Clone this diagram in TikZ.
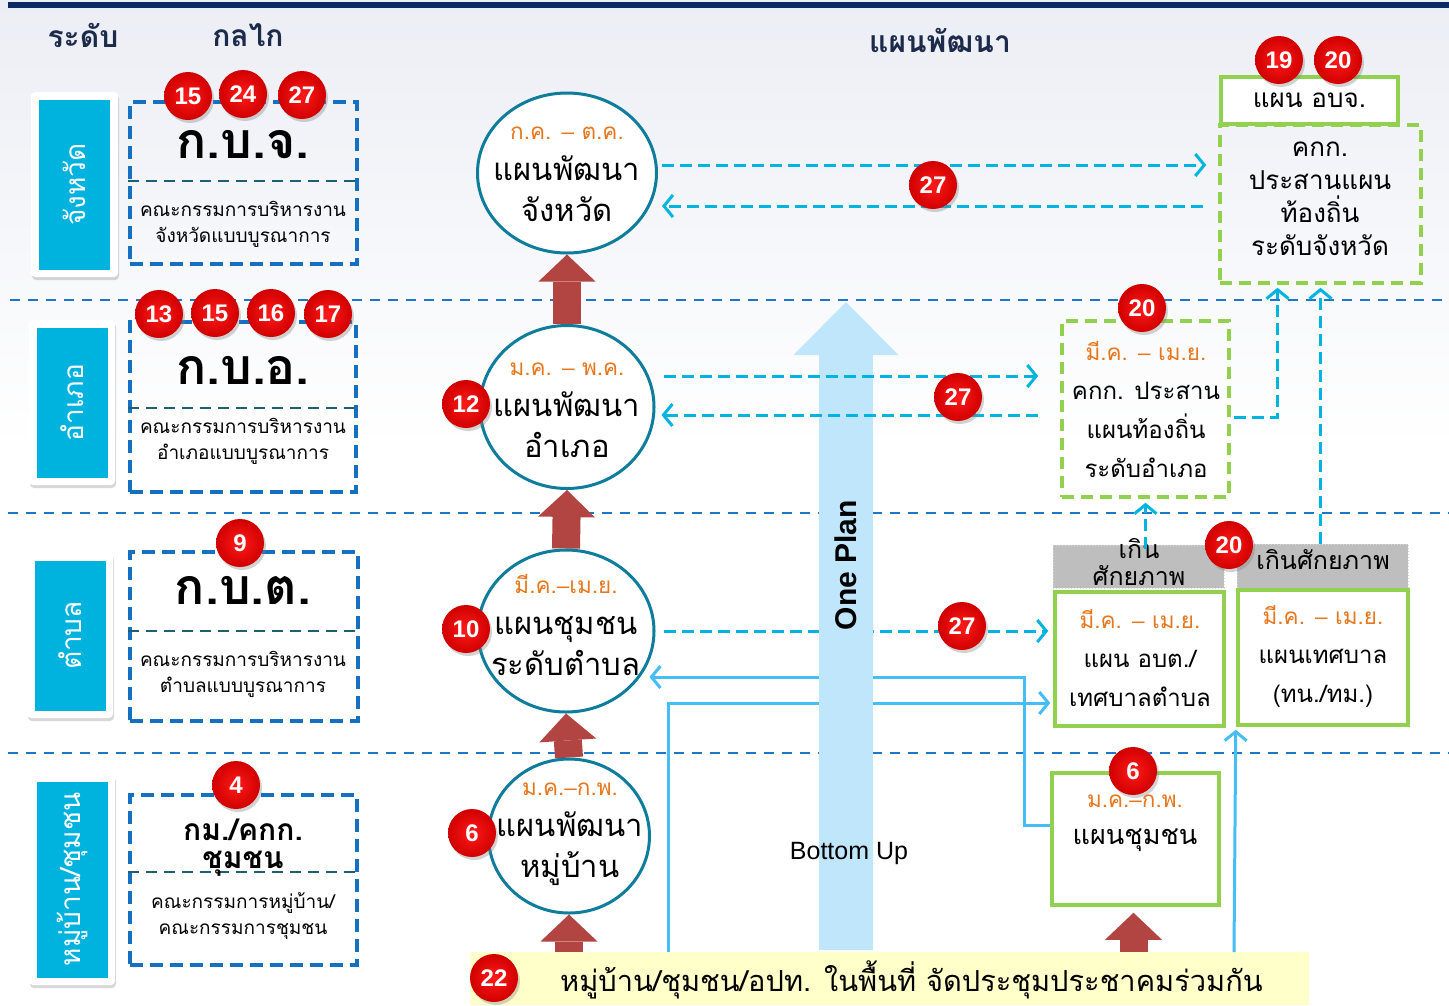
\documentclass[tikz,border=0pt]{standalone}
\usepackage{fontspec}
\setmainfont[Script=Thai]{Loma}
\newfontfamily\latinfont{Liberation Sans}
\usetikzlibrary{arrows.meta,shapes.geometric,shadows,calc}
\pgfdeclarelayer{bg}
\pgfdeclarelayer{back}
\pgfsetlayers{bg,back,main}

\definecolor{navyline}{HTML}{0B2A62}
\definecolor{navytext}{HTML}{1C2B4A}
\definecolor{sepblue}{HTML}{1B78C8}
\definecolor{mechblue}{HTML}{1670C2}
\definecolor{divteal}{HTML}{1D5F73}
\definecolor{lvlcyan}{HTML}{00B2DE}
\definecolor{ellteal}{HTML}{0E7C9B}
\definecolor{datecol}{HTML}{E8761C}
\definecolor{redarrow}{HTML}{B24441}
\definecolor{oneplan}{HTML}{BFE6FA}
\definecolor{dashcyan}{HTML}{00B4E0}
\definecolor{solidblue}{HTML}{45BDF7}
\definecolor{grn}{HTML}{92D050}
\definecolor{greyhdr}{HTML}{BEBEBE}
\definecolor{barfill}{HTML}{FFFFC9}
\definecolor{bgtop}{HTML}{ECEEF5}
\definecolor{ballin}{HTML}{FF1A1A}
\definecolor{ballout}{HTML}{D00000}

\newcommand\fsz[2]{\fontsize{#1}{#2}\selectfont}
\newcommand\mon[1]{{\color{datecol}\fsz{22.5}{28}#1}}
\newcommand\ndsh{{\latinfont –}}
\newcommand\badge[3]{\node[badge] (#1) at (#2) {#3};}

\tikzset{
  badge/.style={circle, minimum size=48, inner sep=0, inner color=ballin, outer color=ballout,
    text=white, font=\latinfont\bfseries\fsz{24}{24},
    drop shadow={opacity=0.35, shadow xshift=2pt, shadow yshift=-3pt}},
  lvlbox/.style={fill=white, rounded corners=4, inner sep=0,
    drop shadow={opacity=0.3, shadow xshift=1pt, shadow yshift=-3pt}},
  lvltxt/.style={fill=lvlcyan, text=white, rotate=90, inner sep=0, font=\fsz{28}{30}},
  mechbox/.style={draw=mechblue, line width=3.5, dash pattern=on 13pt off 7pt, inner sep=0},
  divline/.style={draw=divteal, line width=2.5, dash pattern=on 11pt off 7pt},
  abbr/.style={font=\bfseries\fsz{50}{50}, inner sep=0},
  mechdesc/.style={font=\fsz{19}{26}, align=center, inner sep=0},
  plan/.style={ellipse, draw=ellteal, line width=3, fill=white, inner sep=0},
  plantxt/.style={font=\fsz{31}{41}, align=center, inner sep=0},
  grnsolid/.style={draw=grn, line width=3.5, fill=white, inner sep=0},
  grndash/.style={draw=grn, line width=3.5, dash pattern=on 12pt off 7pt, inner sep=0},
  potbox/.style={fill=greyhdr, draw=white!70!gray, dotted, line width=1, inner sep=0},
  boxtxt/.style={font=\fsz{24}{39}, align=center, inner sep=0},
  sepline/.style={draw=sepblue, line width=2.5, dash pattern=on 10pt off 8pt},
  dashconn/.style={draw=dashcyan, line width=3, dash pattern=on 12pt off 6pt,
    -{Straight Barb[length=9pt,width=22pt]}},
  solidconn/.style={draw=solidblue, line width=3, -{Straight Barb[length=9pt,width=22pt]}},
  redup/.style={draw=redarrow, line width=28, -{Triangle[length=27pt,width=57pt,line width=0pt]}},
  oparrow/.style={draw=oneplan, line width=54, -{Triangle[length=53pt,width=105pt,line width=0pt]}},
  headtxt/.style={text=navytext, font=\bfseries\fsz{30}{30}, inner sep=0}
}

\begin{document}
\begin{tikzpicture}[x=1pt,y=-1pt]
%%%%% START %%%%%
\useasboundingbox (0,0) rectangle (1449,1005);
\begin{pgfonlayer}{bg}
\fill[white] (0,0) rectangle (1449,1005);
\shade[top color=bgtop, bottom color=white] (0,0) rectangle (1449,450);
\fill[navyline] (8,2) rectangle (1449,8);
\draw[sepline] (10,300) -- (1449,300);
\draw[sepline] (8,513) -- (1449,513);
\draw[sepline] (8,753) -- (1449,753);
\end{pgfonlayer}

\node[headtxt] (hLevel) at (83,35) {ระดับ};
\node[headtxt] (hMech) at (248,35) {กลไก};
\node[headtxt] (hPlan) at (940,40) {แผนพัฒนา};

% levels
\node[lvlbox, minimum width=87, minimum height=185] (Lprov) at (74.5,184.5) {};
\node[lvltxt, minimum width=170, minimum height=71] (LprovT) at (Lprov) {จังหวัด};
\node[lvlbox, minimum width=86, minimum height=165] (Ldist) at (72,402.5) {};
\node[lvltxt, minimum width=150, minimum height=71] (LdistT) at (Ldist) {อำเภอ};
\node[lvlbox, minimum width=86, minimum height=165] (Lsub) at (70,635.5) {};
\node[lvltxt, minimum width=150, minimum height=71] (LsubT) at (Lsub) {ตำบล};
\node[lvlbox, minimum width=86, minimum height=211] (Lvill) at (72,879.5) {};
\node[lvltxt, minimum width=196, minimum height=71] (LvillT) at (Lvill) {หมู่บ้าน/ชุมชน};

% mechanisms
\node[mechbox, minimum width=227, minimum height=162] (kbj) at (243.5,183) {};
\draw[divline] ([yshift=2pt]kbj.west) -- ([yshift=2pt]kbj.east);
\node[abbr] (kbjT) at (243,145) {ก.บ.จ.};
\node[mechdesc] (kbjD) at (243,224) {คณะกรรมการบริหารงาน\\จังหวัดแบบบูรณาการ};

\node[mechbox, minimum width=226, minimum height=170] (kba) at (243,407) {};
\draw[divline] ([yshift=-1pt]kba.west) -- ([yshift=-1pt]kba.east);
\node[abbr] (kbaT) at (243,370) {ก.บ.อ.};
\node[mechdesc] (kbaD) at (243,441) {คณะกรรมการบริหารงาน\\อำเภอแบบบูรณาการ};

\node[mechbox, minimum width=228, minimum height=169] (kbt) at (244,636.5) {};
\draw[divline] ([yshift=5.5pt]kbt.west) -- ([yshift=5.5pt]kbt.east);
\node[abbr] (kbtT) at (243,590) {ก.บ.ต.};
\node[mechdesc] (kbtD) at (243,674) {คณะกรรมการบริหารงาน\\ตำบลแบบบูรณาการ};

\node[mechbox, minimum width=227, minimum height=170] (kmc) at (243.5,880) {};
\draw[divline] ([yshift=8pt]kmc.west) -- ([yshift=8pt]kmc.east);
\node[abbr, font=\bfseries\fsz{30}{28}, align=center] (kmcT) at (243,848) {กม./คกก.\\ชุมชน};
\node[mechdesc] (kmcD) at (243,916) {คณะกรรมการหมู่บ้าน/\\คณะกรรมการชุมชน};

% plans
\node[plan, minimum width=179, minimum height=160] (E1) at (567,173) {};
\node[plantxt] (E1T) at (567,174) {\mon{ก.ค. \ndsh{} ต.ค.}\\แผนพัฒนา\\จังหวัด};
\node[plan, minimum width=174, minimum height=163] (E2) at (567,407) {};
\node[plantxt] (E2T) at (567,410) {\mon{ม.ค. \ndsh{} พ.ค.}\\แผนพัฒนา\\อำเภอ};
\node[plan, minimum width=176, minimum height=162] (E3) at (566,631) {};
\node[plantxt] (E3T) at (566,625) {\mon{มี.ค.\ndsh{}เม.ย.}\\แผนชุมชน\\ระดับตำบล};
\node[plan, minimum width=161, minimum height=154] (E4) at (569,836) {};
\node[plantxt] (E4T) at (570,834) {\mon{ม.ค.\ndsh{}ก.พ.}\\แผนพัฒนา\\หมู่บ้าน};

\node[fill=barfill, minimum width=839, minimum height=53, inner sep=0, anchor=north west] (bar) at (470,952) {};
\node[font=\fsz{29}{29}, anchor=west, inner sep=0] (barT) at (560,980) {หมู่บ้าน/ชุมชน/อปท. ในพื้นที่ จัดประชุมประชาคมร่วมกัน};

% local plans
\node[grnsolid, minimum width=177, minimum height=47, font=\fsz{26}{30}] (kpjH) at (1309.5,100.5) {แผน อบจ.};
\node[grndash, minimum width=201, minimum height=158] (kpj) at (1320.5,204) {};
\node[boxtxt, font=\fsz{26}{33}] (kpjT) at (1320,199) {คกก.\\ประสานแผน\\ท้องถิ่น\\ระดับจังหวัด};
\node[grndash, minimum width=167, minimum height=176] (kpa) at (1145.5,409) {};
\node[boxtxt] (kpaT) at (1146,410) {\mon{มี.ค. \ndsh{} เม.ย.}\\คกก. ประสาน\\แผนท้องถิ่น\\ระดับอำเภอ};
\node[potbox, minimum width=171, minimum height=43] (pot1) at (1138.5,566.5) {};
\node[boxtxt, font=\fsz{25}{27}] (pot1T) at (1139,562) {เกิน\\ศักยภาพ};
\node[potbox, minimum width=171, minimum height=44] (pot2) at (1322.5,566) {};
\node[boxtxt, font=\fsz{25}{27}] (pot2T) at (1323,560) {เกินศักยภาพ};
\node[grnsolid, minimum width=169, minimum height=134] (obt) at (1139.5,659) {};
\node[boxtxt] (obtT) at (1140,658) {\mon{มี.ค. \ndsh{} เม.ย.}\\แผน อบต./\\เทศบาลตำบล};
\node[grnsolid, minimum width=170, minimum height=135] (tsb) at (1323,657.5) {};
\node[boxtxt] (tsbT) at (1323,656) {\mon{มี.ค. \ndsh{} เม.ย.}\\แผนเทศบาล\\(ทน./ทม.)};
\node[grnsolid, minimum width=167, minimum height=132] (comm) at (1135.5,839) {};
\node[boxtxt, font=\fsz{27}{37}] (commT) at (1135,823) {\mon{ม.ค.\ndsh{}ก.พ.}\\แผนชุมชน};

\coordinate (opBot) at (846,950);
\coordinate (opTop) at (846,302);

\begin{pgfonlayer}{back}
\draw[redup] (E2.north) -- (E1.south);
\draw[redup] (E3.north) -- (E2.south);
\draw[redup] (E4.north) -- (E3.south);
\draw[redup] (E4.south |- bar.north) -- (E4.south);
\draw[redup] ($(comm.south |- bar.north)+(-2,0)$) -- ($(comm.south)+(-2,6)$);
\draw[dashconn] ($(E3.east)+(8,0)$) -- ($(E3.east -| obt.west)+(-5,0)$);
\draw[solidconn] ($(comm.west)+(0,-14)$) -- ++(-26,0) |- ($(E3.east)+(-6,46)$);
\draw[solidconn] ($(bar.north west)+(198,0)$) |- ($(obt.west)+(-3,44)$);
\draw[oparrow] (opBot) -- (opTop);
\end{pgfonlayer}

\node[rotate=90, font=\latinfont\bfseries\fsz{30}{30}, inner sep=0] (opT) at (846,565) {One Plan};
\node[font=\latinfont\fsz{25}{25}, inner sep=0] (buT) at (849,853) {Bottom Up};

\draw[dashconn] ($(E1.east)+(4,-8)$) -- ($(E1.east -| kpj.west)+(-12,-8)$);
\draw[dashconn] ($(E1.east -| kpj.west)+(-15,33)$) -- ($(E1.east)+(4,33)$);
\draw[dashconn] ($(E2.east)+(8,-31)$) -- ($(E2.east -| kpa.west)+(-22,-31)$);
\draw[dashconn] ($(E2.east -| kpa.west)+(-22,8)$) -- ($(E2.east)+(6,8)$);
\draw[dashconn] ($(kpa.east)+(3,8)$) -| ($(kpj.south)+(-43,3)$);
\draw[dashconn] (pot2.north -| kpj.south) -- ($(kpj.south)+(0,3)$);
\draw[dashconn] ($(pot1.north -| kpa.south)+(0,4)$) -- ($(kpa.south)+(0,4)$);
\draw[solidconn] ($(bar.north west)+(764,0)$) -- ($(obt.south east)+(10,2)$);

% badges
\badge{b15a}{188,96}{15}
\badge{b24}{243,94}{24}
\badge{b27a}{302,95}{27}
\badge{b13}{159,314}{13}
\badge{b15b}{215,313}{15}
\badge{b16}{271,313}{16}
\badge{b17}{328,314}{17}
\badge{b9}{240,543}{9}
\badge{b4}{236,785}{4}
\badge{b12}{466,404}{12}
\badge{b10}{466,629}{10}
\badge{b6a}{472,833}{6}
\badge{b27b}{933,185}{27}
\badge{b19}{1279,60}{19}
\badge{b20a}{1338,60}{20}
\badge{b20b}{1142,308}{20}
\badge{b27c}{958,397}{27}
\badge{b27d}{962,626}{27}
\badge{b20c}{1229,545}{20}
\badge{b6b}{1133,771}{6}
\badge{b22}{494,978}{22}
%%%%% START %%%%%
\end{tikzpicture}
\end{document}
